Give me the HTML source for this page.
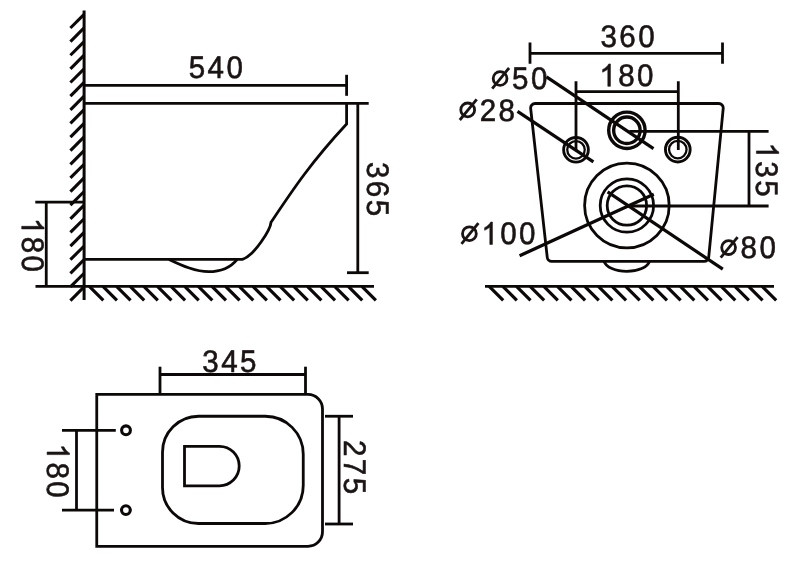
<!DOCTYPE html>
<html><head><meta charset="utf-8"><title>Drawing</title>
<style>
html,body{margin:0;padding:0;background:#fff;}
body{width:800px;height:575px;overflow:hidden;}
svg{display:block;will-change:transform;}
.t text{font-family:"Liberation Sans",sans-serif;font-size:31.1px;text-rendering:geometricPrecision;fill:#1a1414;stroke:#1a1414;stroke-width:0.6;} .t path{fill:#1a1414;stroke:#1a1414;} .t .o{fill:none;stroke:#1a1414;stroke-width:2.8;}
</style></head><body>
<svg width="800" height="575" viewBox="0 0 800 575" fill="none" stroke="#0c0808">
<rect x="0" y="0" width="800" height="575" fill="#ffffff" stroke="none"/>
<line x1="84.10" y1="10.60" x2="84.10" y2="300.00" stroke-width="3.0" stroke-linecap="butt"/>
<line x1="84.10" y1="14.30" x2="70.40" y2="28.00" stroke-width="3.1" stroke-linecap="butt"/>
<line x1="84.10" y1="27.93" x2="70.40" y2="41.63" stroke-width="3.1" stroke-linecap="butt"/>
<line x1="84.10" y1="41.56" x2="70.40" y2="55.26" stroke-width="3.1" stroke-linecap="butt"/>
<line x1="84.10" y1="55.19" x2="70.40" y2="68.89" stroke-width="3.1" stroke-linecap="butt"/>
<line x1="84.10" y1="68.82" x2="70.40" y2="82.52" stroke-width="3.1" stroke-linecap="butt"/>
<line x1="84.10" y1="82.45" x2="70.40" y2="96.15" stroke-width="3.1" stroke-linecap="butt"/>
<line x1="84.10" y1="96.08" x2="70.40" y2="109.78" stroke-width="3.1" stroke-linecap="butt"/>
<line x1="84.10" y1="109.71" x2="70.40" y2="123.41" stroke-width="3.1" stroke-linecap="butt"/>
<line x1="84.10" y1="123.34" x2="70.40" y2="137.04" stroke-width="3.1" stroke-linecap="butt"/>
<line x1="84.10" y1="136.97" x2="70.40" y2="150.67" stroke-width="3.1" stroke-linecap="butt"/>
<line x1="84.10" y1="150.60" x2="70.40" y2="164.30" stroke-width="3.1" stroke-linecap="butt"/>
<line x1="84.10" y1="164.23" x2="70.40" y2="177.93" stroke-width="3.1" stroke-linecap="butt"/>
<line x1="84.10" y1="177.86" x2="70.40" y2="191.56" stroke-width="3.1" stroke-linecap="butt"/>
<line x1="84.10" y1="191.49" x2="70.40" y2="205.19" stroke-width="3.1" stroke-linecap="butt"/>
<line x1="84.10" y1="205.12" x2="70.40" y2="218.82" stroke-width="3.1" stroke-linecap="butt"/>
<line x1="84.10" y1="218.75" x2="70.40" y2="232.45" stroke-width="3.1" stroke-linecap="butt"/>
<line x1="84.10" y1="232.38" x2="70.40" y2="246.08" stroke-width="3.1" stroke-linecap="butt"/>
<line x1="84.10" y1="246.01" x2="70.40" y2="259.71" stroke-width="3.1" stroke-linecap="butt"/>
<line x1="84.10" y1="259.64" x2="70.40" y2="273.34" stroke-width="3.1" stroke-linecap="butt"/>
<line x1="84.10" y1="273.27" x2="70.40" y2="286.97" stroke-width="3.1" stroke-linecap="butt"/>
<line x1="84.10" y1="286.90" x2="70.40" y2="300.60" stroke-width="3.1" stroke-linecap="butt"/>
<line x1="84.10" y1="85.30" x2="346.60" y2="85.30" stroke-width="2.8" stroke-linecap="butt"/>
<line x1="346.60" y1="74.80" x2="346.60" y2="95.80" stroke-width="2.8" stroke-linecap="butt"/>
<line x1="84.10" y1="103.40" x2="368.70" y2="103.40" stroke-width="2.8" stroke-linecap="butt"/>
<path d="M346.6 103.4 L346.6 124.0 C310.5 162.9 292.9 189.6 271 222.3 C270.5 229 255 255.2 242.4 259.4 L84.3 259.4" stroke-width="2.8" />
<path d="M169 259.4 C183 266 196 271.7 208.5 271.7 C221 271.7 231 267 237 259.6" stroke-width="2.8" />
<line x1="357.80" y1="103.00" x2="357.80" y2="272.70" stroke-width="2.8" stroke-linecap="butt"/>
<line x1="347.00" y1="272.70" x2="368.70" y2="272.70" stroke-width="2.8" stroke-linecap="butt"/>
<line x1="35.50" y1="286.40" x2="374.00" y2="286.40" stroke-width="2.8" stroke-linecap="butt"/>
<line x1="89.30" y1="286.40" x2="103.30" y2="300.40" stroke-width="3.2" stroke-linecap="butt"/>
<line x1="102.93" y1="286.40" x2="116.93" y2="300.40" stroke-width="3.2" stroke-linecap="butt"/>
<line x1="116.56" y1="286.40" x2="130.56" y2="300.40" stroke-width="3.2" stroke-linecap="butt"/>
<line x1="130.19" y1="286.40" x2="144.19" y2="300.40" stroke-width="3.2" stroke-linecap="butt"/>
<line x1="143.82" y1="286.40" x2="157.82" y2="300.40" stroke-width="3.2" stroke-linecap="butt"/>
<line x1="157.45" y1="286.40" x2="171.45" y2="300.40" stroke-width="3.2" stroke-linecap="butt"/>
<line x1="171.08" y1="286.40" x2="185.08" y2="300.40" stroke-width="3.2" stroke-linecap="butt"/>
<line x1="184.71" y1="286.40" x2="198.71" y2="300.40" stroke-width="3.2" stroke-linecap="butt"/>
<line x1="198.34" y1="286.40" x2="212.34" y2="300.40" stroke-width="3.2" stroke-linecap="butt"/>
<line x1="211.97" y1="286.40" x2="225.97" y2="300.40" stroke-width="3.2" stroke-linecap="butt"/>
<line x1="225.60" y1="286.40" x2="239.60" y2="300.40" stroke-width="3.2" stroke-linecap="butt"/>
<line x1="239.23" y1="286.40" x2="253.23" y2="300.40" stroke-width="3.2" stroke-linecap="butt"/>
<line x1="252.86" y1="286.40" x2="266.86" y2="300.40" stroke-width="3.2" stroke-linecap="butt"/>
<line x1="266.49" y1="286.40" x2="280.49" y2="300.40" stroke-width="3.2" stroke-linecap="butt"/>
<line x1="280.12" y1="286.40" x2="294.12" y2="300.40" stroke-width="3.2" stroke-linecap="butt"/>
<line x1="293.75" y1="286.40" x2="307.75" y2="300.40" stroke-width="3.2" stroke-linecap="butt"/>
<line x1="307.38" y1="286.40" x2="321.38" y2="300.40" stroke-width="3.2" stroke-linecap="butt"/>
<line x1="321.01" y1="286.40" x2="335.01" y2="300.40" stroke-width="3.2" stroke-linecap="butt"/>
<line x1="334.64" y1="286.40" x2="348.64" y2="300.40" stroke-width="3.2" stroke-linecap="butt"/>
<line x1="348.27" y1="286.40" x2="362.27" y2="300.40" stroke-width="3.2" stroke-linecap="butt"/>
<line x1="361.90" y1="286.40" x2="375.90" y2="300.40" stroke-width="3.2" stroke-linecap="butt"/>
<line x1="35.30" y1="202.20" x2="84.10" y2="202.20" stroke-width="2.8" stroke-linecap="butt"/>
<line x1="46.25" y1="202.20" x2="46.25" y2="286.40" stroke-width="2.8" stroke-linecap="butt"/>
<path d="M530.66 108.50 A4.5 4.5 0 0 1 535.13 103.50 L718.74 103.50 A4.5 4.5 0 0 1 723.22 108.44 L708.70 257.24 A4.5 4.5 0 0 1 704.22 261.30 L551.73 261.30 A4.5 4.5 0 0 1 547.25 257.30 Z" stroke-width="2.8" />
<path d="M604.1 261.3 A23.0 12.1 0 0 0 649.5 261.3" stroke-width="2.8" />
<circle cx="576" cy="149.8" r="12.35" stroke-width="2.9"/>
<circle cx="576" cy="149.8" r="8.75" stroke-width="2.3"/>
<circle cx="677.8" cy="149.6" r="12.35" stroke-width="2.9"/>
<circle cx="677.8" cy="149.6" r="8.75" stroke-width="2.3"/>
<circle cx="626.9" cy="130.3" r="18.2" stroke-width="3.4"/>
<circle cx="626.9" cy="130.3" r="13.25" stroke-width="3.4"/>
<circle cx="626.9" cy="205.5" r="42.3" stroke-width="2.8"/>
<circle cx="626.9" cy="205.5" r="26.7" stroke-width="2.8"/>
<circle cx="626.9" cy="205.5" r="19.7" stroke-width="2.8"/>
<line x1="530.00" y1="53.40" x2="722.50" y2="53.40" stroke-width="2.8" stroke-linecap="butt"/>
<line x1="530.00" y1="42.50" x2="530.00" y2="63.75" stroke-width="2.8" stroke-linecap="butt"/>
<line x1="722.50" y1="42.50" x2="722.50" y2="63.75" stroke-width="2.8" stroke-linecap="butt"/>
<line x1="576.00" y1="91.60" x2="678.30" y2="91.60" stroke-width="2.8" stroke-linecap="butt"/>
<line x1="576.00" y1="81.25" x2="576.00" y2="150.00" stroke-width="2.8" stroke-linecap="butt"/>
<line x1="678.30" y1="81.25" x2="678.30" y2="150.00" stroke-width="2.8" stroke-linecap="butt"/>
<line x1="629.40" y1="131.30" x2="768.60" y2="131.30" stroke-width="2.8" stroke-linecap="butt"/>
<line x1="629.00" y1="206.00" x2="768.60" y2="206.00" stroke-width="2.8" stroke-linecap="butt"/>
<line x1="749.00" y1="131.30" x2="749.00" y2="206.00" stroke-width="2.8" stroke-linecap="butt"/>
<line x1="546.50" y1="76.90" x2="653.50" y2="148.60" stroke-width="3.2" stroke-linecap="butt"/>
<line x1="517.50" y1="111.30" x2="593.40" y2="161.90" stroke-width="3.2" stroke-linecap="butt"/>
<line x1="519.60" y1="255.80" x2="653.80" y2="194.30" stroke-width="3.2" stroke-linecap="butt"/>
<line x1="607.60" y1="191.90" x2="722.80" y2="269.15" stroke-width="3.2" stroke-linecap="butt"/>
<line x1="485.00" y1="286.40" x2="774.00" y2="286.40" stroke-width="2.8" stroke-linecap="butt"/>
<line x1="489.20" y1="286.40" x2="503.20" y2="300.40" stroke-width="3.2" stroke-linecap="butt"/>
<line x1="502.85" y1="286.40" x2="516.85" y2="300.40" stroke-width="3.2" stroke-linecap="butt"/>
<line x1="516.50" y1="286.40" x2="530.50" y2="300.40" stroke-width="3.2" stroke-linecap="butt"/>
<line x1="530.15" y1="286.40" x2="544.15" y2="300.40" stroke-width="3.2" stroke-linecap="butt"/>
<line x1="543.80" y1="286.40" x2="557.80" y2="300.40" stroke-width="3.2" stroke-linecap="butt"/>
<line x1="557.45" y1="286.40" x2="571.45" y2="300.40" stroke-width="3.2" stroke-linecap="butt"/>
<line x1="571.10" y1="286.40" x2="585.10" y2="300.40" stroke-width="3.2" stroke-linecap="butt"/>
<line x1="584.75" y1="286.40" x2="598.75" y2="300.40" stroke-width="3.2" stroke-linecap="butt"/>
<line x1="598.40" y1="286.40" x2="612.40" y2="300.40" stroke-width="3.2" stroke-linecap="butt"/>
<line x1="612.05" y1="286.40" x2="626.05" y2="300.40" stroke-width="3.2" stroke-linecap="butt"/>
<line x1="625.70" y1="286.40" x2="639.70" y2="300.40" stroke-width="3.2" stroke-linecap="butt"/>
<line x1="639.35" y1="286.40" x2="653.35" y2="300.40" stroke-width="3.2" stroke-linecap="butt"/>
<line x1="653.00" y1="286.40" x2="667.00" y2="300.40" stroke-width="3.2" stroke-linecap="butt"/>
<line x1="666.65" y1="286.40" x2="680.65" y2="300.40" stroke-width="3.2" stroke-linecap="butt"/>
<line x1="680.30" y1="286.40" x2="694.30" y2="300.40" stroke-width="3.2" stroke-linecap="butt"/>
<line x1="693.95" y1="286.40" x2="707.95" y2="300.40" stroke-width="3.2" stroke-linecap="butt"/>
<line x1="707.60" y1="286.40" x2="721.60" y2="300.40" stroke-width="3.2" stroke-linecap="butt"/>
<line x1="721.25" y1="286.40" x2="735.25" y2="300.40" stroke-width="3.2" stroke-linecap="butt"/>
<line x1="734.90" y1="286.40" x2="748.90" y2="300.40" stroke-width="3.2" stroke-linecap="butt"/>
<line x1="748.55" y1="286.40" x2="762.55" y2="300.40" stroke-width="3.2" stroke-linecap="butt"/>
<line x1="762.20" y1="286.40" x2="776.20" y2="300.40" stroke-width="3.2" stroke-linecap="butt"/>
<path d="M96.75 394.4 L308 394.4 A14.5 14.5 0 0 1 322.5 408.9 L322.5 531.8 A14.5 14.5 0 0 1 308 546.3 L96.75 546.3 Z" stroke-width="2.8" />
<path d="M198.5 416.25 L265.25 416.25 A38 38 0 0 1 303.25 454.25 L303.25 485.5 A38 38 0 0 1 265.25 523.5 L198.5 523.5 A36 36 0 0 1 162.5 487.5 L162.5 452.25 A36 36 0 0 1 198.5 416.25 Z" stroke-width="2.8" />
<path d="M184.5 446.3 L219.4 446.3 A19.8 19.8 0 0 1 219.4 485.9 L184.5 485.9 Z" stroke-width="2.8" />
<circle cx="126.0" cy="430.3" r="4.4" stroke-width="3.1"/>
<circle cx="125.9" cy="510.1" r="4.4" stroke-width="3.1"/>
<line x1="160.00" y1="374.50" x2="305.50" y2="374.50" stroke-width="2.8" stroke-linecap="butt"/>
<line x1="160.00" y1="366.70" x2="160.00" y2="394.40" stroke-width="2.8" stroke-linecap="butt"/>
<line x1="305.50" y1="366.70" x2="305.50" y2="394.40" stroke-width="2.8" stroke-linecap="butt"/>
<line x1="62.00" y1="430.30" x2="115.80" y2="430.30" stroke-width="2.8" stroke-linecap="butt"/>
<line x1="62.00" y1="510.05" x2="114.00" y2="510.05" stroke-width="2.8" stroke-linecap="butt"/>
<line x1="76.50" y1="430.30" x2="76.50" y2="510.05" stroke-width="2.8" stroke-linecap="butt"/>
<line x1="325.00" y1="416.25" x2="353.00" y2="416.25" stroke-width="2.8" stroke-linecap="butt"/>
<line x1="325.00" y1="524.00" x2="353.00" y2="524.00" stroke-width="2.8" stroke-linecap="butt"/>
<line x1="339.10" y1="416.25" x2="339.10" y2="524.00" stroke-width="2.8" stroke-linecap="butt"/>
<g transform="translate(188.7 78.1) rotate(0)" class="t"><text transform="translate(0.00 0) scale(0.95 1)">5</text><text transform="translate(18.85 0) scale(0.95 1)">4</text><text transform="translate(37.70 0) scale(0.95 1)">0</text></g>
<g transform="translate(600.5 47.0) rotate(0)" class="t"><text transform="translate(0.00 0) scale(0.95 1)">3</text><text transform="translate(18.85 0) scale(0.95 1)">6</text><text transform="translate(37.70 0) scale(0.95 1)">0</text></g>
<g transform="translate(599.4 86.3) rotate(0)" class="t"><path transform="translate(0.00 0) scale(0.01443 0.01519)" d="M763 0 H583 V-1147 Q518 -1085 412.5 -1023 Q307 -961 223 -930 V-1104 Q374 -1175 487 -1276 Q600 -1377 647 -1472 H763 Z" stroke-width="39.5"/><text transform="translate(18.85 0) scale(0.95 1)">8</text><text transform="translate(37.70 0) scale(0.95 1)">0</text></g>
<g transform="translate(490.8 89.2) rotate(0)" class="t"><circle cx="9.30" cy="-10.7" r="6.9" class="o"/><line x1="1.40" y1="-0.6" x2="18.30" y2="-21.2" class="o"/><text transform="translate(21.30 0) scale(0.95 1)">5</text><text transform="translate(40.15 0) scale(0.95 1)">0</text></g>
<g transform="translate(458.4 120.6) rotate(0)" class="t"><circle cx="9.30" cy="-10.7" r="6.9" class="o"/><line x1="1.40" y1="-0.6" x2="18.30" y2="-21.2" class="o"/><text transform="translate(21.30 0) scale(0.95 1)">2</text><text transform="translate(40.15 0) scale(0.95 1)">8</text></g>
<g transform="translate(460.1 244.4) rotate(0)" class="t"><circle cx="9.30" cy="-10.7" r="6.9" class="o"/><line x1="1.40" y1="-0.6" x2="18.30" y2="-21.2" class="o"/><path transform="translate(21.30 0) scale(0.01443 0.01519)" d="M763 0 H583 V-1147 Q518 -1085 412.5 -1023 Q307 -961 223 -930 V-1104 Q374 -1175 487 -1276 Q600 -1377 647 -1472 H763 Z" stroke-width="39.5"/><text transform="translate(40.15 0) scale(0.95 1)">0</text><text transform="translate(59.00 0) scale(0.95 1)">0</text></g>
<g transform="translate(719.3 258.3) rotate(0)" class="t"><circle cx="9.30" cy="-10.7" r="6.9" class="o"/><line x1="1.40" y1="-0.6" x2="18.30" y2="-21.2" class="o"/><text transform="translate(21.30 0) scale(0.95 1)">8</text><text transform="translate(40.15 0) scale(0.95 1)">0</text></g>
<g transform="translate(202.3 371.8) rotate(0)" class="t"><text transform="translate(0.00 0) scale(0.95 1)">3</text><text transform="translate(18.85 0) scale(0.95 1)">4</text><text transform="translate(37.70 0) scale(0.95 1)">5</text></g>
<g transform="translate(366.5 162) rotate(90)" class="t"><text transform="translate(0.00 0) scale(0.95 1)">3</text><text transform="translate(18.85 0) scale(0.95 1)">6</text><text transform="translate(37.70 0) scale(0.95 1)">5</text></g>
<g transform="translate(756.4 142.5) rotate(90)" class="t"><path transform="translate(0.00 0) scale(0.01443 0.01519)" d="M763 0 H583 V-1147 Q518 -1085 412.5 -1023 Q307 -961 223 -930 V-1104 Q374 -1175 487 -1276 Q600 -1377 647 -1472 H763 Z" stroke-width="39.5"/><text transform="translate(18.85 0) scale(0.95 1)">3</text><text transform="translate(37.70 0) scale(0.95 1)">5</text></g>
<g transform="translate(21.7 217.9) rotate(90)" class="t"><path transform="translate(0.00 0) scale(0.01443 0.01519)" d="M763 0 H583 V-1147 Q518 -1085 412.5 -1023 Q307 -961 223 -930 V-1104 Q374 -1175 487 -1276 Q600 -1377 647 -1472 H763 Z" stroke-width="39.5"/><text transform="translate(18.85 0) scale(0.95 1)">8</text><text transform="translate(37.70 0) scale(0.95 1)">0</text></g>
<g transform="translate(343.75 440) rotate(90)" class="t"><text transform="translate(0.00 0) scale(0.95 1)">2</text><text transform="translate(18.85 0) scale(0.95 1)">7</text><text transform="translate(37.70 0) scale(0.95 1)">5</text></g>
<g transform="translate(47.1 443.6) rotate(90)" class="t"><path transform="translate(0.00 0) scale(0.01443 0.01519)" d="M763 0 H583 V-1147 Q518 -1085 412.5 -1023 Q307 -961 223 -930 V-1104 Q374 -1175 487 -1276 Q600 -1377 647 -1472 H763 Z" stroke-width="39.5"/><text transform="translate(18.85 0) scale(0.95 1)">8</text><text transform="translate(37.70 0) scale(0.95 1)">0</text></g>
</svg>
</body></html>
